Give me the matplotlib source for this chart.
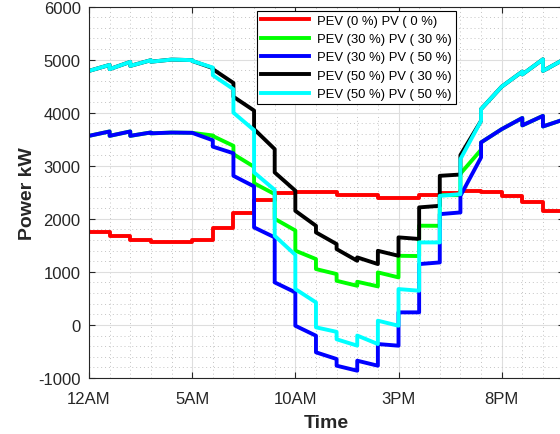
import numpy as np
import matplotlib
matplotlib.use("Agg")
import matplotlib.pyplot as plt
from matplotlib.ticker import MultipleLocator

plt.rcParams["font.family"] = ["Liberation Sans", "DejaVu Sans"]
plt.rcParams["axes.unicode_minus"] = False

# hourly segments: value at the start of each hour and just before the next step
hours = np.arange(23)

red_load = [1760, 1680, 1605, 1570, 1570, 1610, 1820, 2100, 2350, 2490, 2510, 2500,
            2450, 2440, 2400, 2385, 2440, 2495, 2515, 2500, 2435, 2310, 2140]

green_start = [3563, 3563, 3563, 3610, 3625, 3620, 3560, 3218, 2670, 2000, 1400, 1053,
               832, 814, 990, 1303, 1870, 2446, 2850, 3439, 3689, 3760, 3740]
green_end = [3646, 3646, 3627, 3625, 3620, 3570, 3375, 2980, 2465, 1780, 1241, 959,
             738, 727, 896, 1298, 1868, 2446, 3300, 3689, 3900, 3940, 3870]

blue_start = [3563, 3563, 3563, 3610, 3625, 3620, 3360, 2810, 1838, 802, -15, -516,
              -768, -674, -360, 237, 1147, 2088, 2433, 3439, 3689, 3760, 3740]
blue_end = [3646, 3646, 3627, 3625, 3620, 3480, 3235, 2610, 1650, 614, -203, -642,
            -862, -768, -391, 237, 1178, 2120, 3156, 3689, 3900, 3940, 3870]

black_start = [4787, 4820, 4881, 4960, 5000, 4975, 4820, 4300, 3690, 2874, 2150, 1744,
               1429, 1273, 1397, 1650, 2215, 2810, 3200, 4066, 4490, 4720, 4787]
black_end = [4900, 4957, 4989, 5000, 4990, 4840, 4560, 4040, 3313, 2530, 1868, 1524,
             1209, 1147, 1303, 1620, 2245, 2834, 3846, 4490, 4775, 5005, 5000]

cyan_start = [4787, 4820, 4881, 4960, 5000, 4975, 4706, 4000, 2874, 1680, 676, -45,
              -270, -200, 80, 676, 1555, 2433, 3124, 4066, 4490, 4720, 4787]
cyan_end = [4900, 4957, 4989, 5000, 4990, 4850, 4443, 3670, 2545, 1320, 425, -130,
            -390, -360, -15, 645, 1555, 2465, 3846, 4490, 4775, 5005, 5000]


def hourly_line(start, end):
    x, y = [], []
    for h, a, b in zip(hours, start, end):
        x += [h, h + 1]
        y += [a, b]
    return x, y


fig = plt.figure(figsize=(5.6, 4.35), dpi=100)
ax = fig.add_axes([0.1589, 0.1287, 0.8475, 0.854])

lw = 2.8
ax.plot(*hourly_line(red_load, red_load), color=(1, 0, 0), lw=lw, label="PEV (0 %) PV ( 0 %)")
ax.plot(*hourly_line(green_start, green_end), color=(0, 1, 0), lw=lw, label="PEV (30 %) PV ( 30 %)")
ax.plot(*hourly_line(blue_start, blue_end), color=(0, 0, 1), lw=lw, label="PEV (30 %) PV ( 50 %)")
ax.plot(*hourly_line(black_start, black_end), color="k", lw=lw, label="PEV (50 %) PV ( 30 %)")
ax.plot(*hourly_line(cyan_start, cyan_end), color=(0, 1, 1), lw=lw, label="PEV (50 %) PV ( 50 %)")

ax.set_xlim(0, 23)
ax.set_ylim(-1000, 6000)
ax.set_xticks([0, 5, 10, 15, 20])
ax.set_xticklabels(["12AM", "5AM", "10AM", "3PM", "8PM"])
ax.set_yticks(range(-1000, 6001, 1000))
ax.xaxis.set_minor_locator(MultipleLocator(1))
ax.yaxis.set_minor_locator(MultipleLocator(200))

ax.grid(True, which="major", color="#dedede", lw=0.8, ls="-")
ax.grid(True, which="minor", color="#c4c4c4", lw=0.7, ls=(0, (1, 3)))
ax.set_axisbelow(True)

ax.tick_params(which="major", direction="in", length=4, width=0.8, top=True, right=True,
               labelsize=12, colors="#262626")
ax.tick_params(axis="x", which="major", pad=9)
ax.tick_params(axis="y", which="major", pad=6)
ax.tick_params(which="minor", length=0)
for s in ax.spines.values():
    s.set_color("#262626")
    s.set_linewidth(0.8)

ax.set_xlabel("Time", fontsize=14, fontweight="bold", color="#262626")
ax.set_ylabel("Power kW", fontsize=14, fontweight="bold", color="#262626")
ax.xaxis.set_label_coords(0.5, -0.098)
ax.yaxis.set_label_coords(-0.112, 0.5)

leg = ax.legend(loc="upper left", bbox_to_anchor=(0.354, 0.989), fontsize=9.4,
                frameon=True, fancybox=False, edgecolor="k", framealpha=1,
                handlelength=3.7, handletextpad=0.6, labelspacing=0.48,
                borderpad=0.3, borderaxespad=0)
leg.get_frame().set_linewidth(0.8)

fig.savefig("out.png", dpi=100)
